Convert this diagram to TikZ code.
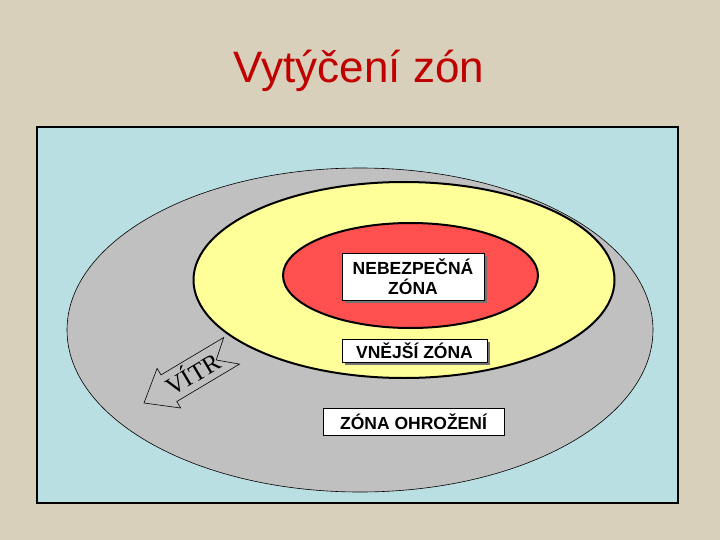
\documentclass[tikz,border=0pt]{standalone}
\usepackage{fontspec}
\setmainfont{Liberation Sans}
\newfontfamily\sansA{Liberation Sans}
\newfontfamily\serifA{Liberation Serif}
\usetikzlibrary{shadows}
\definecolor{bgbeige}{HTML}{D9D0BC}
\definecolor{panelblue}{HTML}{BADFE3}
\definecolor{zonegrey}{HTML}{C0C0C0}
\definecolor{zoneyellow}{HTML}{FFFF99}
\definecolor{zonered}{HTML}{FF5050}
\definecolor{titlered}{HTML}{C00000}
\tikzset{
  labelbox/.style={draw=black, line width=0.6pt, fill=white, align=center,
    font=\sansA\bfseries\fontsize{17.5}{20}\selectfont, inner sep=0pt},
  shadowed/.style={drop shadow={shadow xshift=2.5pt, shadow yshift=-2.5pt, fill=black!55, opacity=1}},
}
\begin{document}
\begin{tikzpicture}[x=1pt,y=-1pt]
\useasboundingbox (0,0) rectangle (720,540);
\fill[bgbeige] (0,0) rectangle (720,540);
\node[font=\sansA\fontsize{44}{50}\selectfont, text=titlered, anchor=base] (title) at (359,83) {Vytýčení zón};
% panel
\draw[fill=panelblue, line width=2.5pt] (37,127) rectangle (678,503);
% zones
\draw[fill=zonegrey, line width=0.6pt] (360,330) ellipse [x radius=293, y radius=162];
\draw[fill=zoneyellow, line width=2pt] (404,280) ellipse [x radius=210.5, y radius=98];
\draw[fill=zonered, line width=2pt] (410.5,275.5) ellipse [x radius=127.5, y radius=52.5];
% labels
\node[labelbox, shadowed, minimum width=142pt, minimum height=47pt] (neb) at (413,276.5) {NEBEZPEČNÁ\\ZÓNA};
\node[labelbox, shadowed, minimum width=145pt, minimum height=23pt] (vne) at (414.5,350.5) {VNĚJŠÍ ZÓNA};
\node[labelbox, minimum width=181pt, minimum height=27pt] (ohr) at (413.5,421.5) {ZÓNA OHROŽENÍ};
% wind arrow
\draw[fill=zonegrey, line width=0.6pt, line join=miter]
  (144,403) -- (157.1,368.4) -- (161.0,374.9) -- (223.7,337.5) -- (216.2,360.0)
  -- (239.5,364.1) -- (176.8,401.5) -- (180.7,408.0) -- cycle;
\node[font=\serifA\fontsize{25}{28}\selectfont, rotate=30.8, inner sep=0pt] (vitr) at (192,373) {VÍTR};
\end{tikzpicture}
\end{document}
